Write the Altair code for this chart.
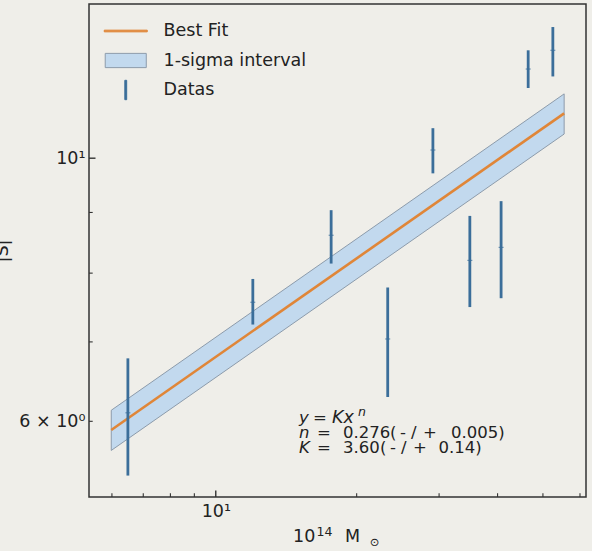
import altair as alt
import pandas as pd

# ---------------- data ----------------
mass = [6.49, 12.0, 17.64, 23.3, 29.1, 34.9, 40.7, 46.5, 52.5]
s_val = [6.10, 7.56, 8.61, 7.04, 10.16, 8.20, 8.41, 11.89, 12.33]
s_low = [5.40, 7.24, 8.15, 6.29, 9.71, 7.49, 7.62, 11.46, 11.72]
s_high = [6.78, 7.91, 9.04, 7.78, 10.60, 8.94, 9.20, 12.33, 12.90]

fit_x = [5.98, 55.5]
fit_y = [5.90, 10.91]
band_lo = [5.67, 10.48]
band_hi = [6.13, 11.33]

legend_labels = ["Best Fit", "1-sigma interval", "Datas"]
x_major_ticks = [10]
x_minor_ticks = [6, 7, 8, 9, 20, 30, 40, 50, 60]
y_major_ticks = [10]
y_minor_ticks = [6, 7, 8, 9]

# ---------------- style ----------------
W, H = 497, 493
FONT = "DejaVu Sans"
FS = 17.5
AFS = 16.5
TXT = "#222222"
ORANGE = "#e08638"
BLUE = "#3b6e9a"
BAND_FILL = "#c2d9ee"
BAND_EDGE = "#8c9bab"
BG = "#efeee9"

xscale = alt.Scale(type="log", domain=[5.36, 61.8], nice=False)
yscale = alt.Scale(type="log", domain=[5.18, 13.49], nice=False)

xaxis = alt.Axis(values=[10], labelExpr="datum.value == 10 ? '10¹' : ''",
                 ticks=False, tickSize=0, domain=False, grid=False,
                 labelFont=FONT, labelFontSize=FS, labelColor=TXT,
                 labelBaseline="alphabetic", labelPadding=19.5,
                 title=None)
yaxis = alt.Axis(values=[6, 10],
                 labelExpr="datum.value == 10 ? '10¹' : (datum.value == 6 ? '6 × 10⁰' : '')",
                 ticks=False, tickSize=0, domain=False, grid=False,
                 labelFont=FONT, labelFontSize=FS, labelColor=TXT,
                 labelPadding=4, labelBaseline="middle",
                 title="|S|", titleFont=FONT, titleFontSize=FS,
                 titleFontWeight="normal", titleColor=TXT,
                 titleAngle=270, titleX=-82, titleY=246.5,
                 titleBaseline="alphabetic", titleAlign="center")

X = lambda f: alt.X(f, type="quantitative", scale=xscale, axis=xaxis)
Y = lambda f: alt.Y(f, type="quantitative", scale=yscale, axis=yaxis)

fit_df = pd.DataFrame({"x": fit_x, "y": fit_y, "lo": band_lo, "hi": band_hi})
data_df = pd.DataFrame({"m": mass, "s": s_val, "lo": s_low, "hi": s_high})

band = alt.Chart(fit_df).mark_area(fill=BAND_FILL, stroke=BAND_EDGE, strokeWidth=1,
                                    opacity=1).encode(
    x=X("x"), y=Y("lo"), y2="hi")
line = alt.Chart(fit_df).mark_line(color=ORANGE, strokeWidth=2.6).encode(
    x=X("x"), y=Y("y"))
bars = alt.Chart(data_df).mark_rule(color=BLUE, strokeWidth=2.8).encode(
    x=X("m"), y=Y("lo"), y2="hi")
centers = alt.Chart(data_df).mark_tick(color=BLUE, orient="horizontal", size=5,
                                       thickness=1.2).encode(x=X("m"), y=Y("s"))

# inward ticks
xt_major = alt.Chart(pd.DataFrame({"v": x_major_ticks})).mark_rule(color="#333", strokeWidth=1.4).encode(
    x=X("v"), y=alt.value(H), y2=alt.value(H - 6.5))
xt_minor = alt.Chart(pd.DataFrame({"v": x_minor_ticks})).mark_rule(color="#333", strokeWidth=1.1).encode(
    x=X("v"), y=alt.value(H), y2=alt.value(H - 3.7))
yt_major = alt.Chart(pd.DataFrame({"v": y_major_ticks})).mark_rule(color="#333", strokeWidth=1.4).encode(
    y=Y("v"), x=alt.value(0), x2=alt.value(6.5))
yt_minor = alt.Chart(pd.DataFrame({"v": y_minor_ticks})).mark_rule(color="#333", strokeWidth=1.1).encode(
    y=Y("v"), x=alt.value(0), x2=alt.value(3.7))

# legend (library legend driven by shape/stroke/fill scales)
# every symbol path carries invisible zero-length points at +-0.68 so all rows share one height
PAD = "M0,-0.68L0,-0.68M0,0.68L0,0.68"
shape_paths = [
    "M-1.51,-0.06H1.51V0.06H-1.51Z" + PAD,
    "M-1.44,-0.50H1.44V0.50H-1.44Z" + PAD,
    "M-0.065,-0.68H0.065V0.68H-0.065Z",
]
leg = alt.Legend(title=None, orient="none", legendX=21.75, legendY=12, padding=0,
                 symbolSize=812, symbolOpacity=1, symbolStrokeWidth=1,
                 labelFont=FONT, labelFontSize=FS, labelColor=TXT,
                 labelOffset=22.75, rowPadding=2.5, labelLimit=400)
legend_layer = alt.Chart(pd.DataFrame({"series": legend_labels})).mark_point(
    filled=False, opacity=1).encode(
    shape=alt.Shape("series:N", scale=alt.Scale(domain=legend_labels, range=shape_paths), legend=leg),
    stroke=alt.Stroke("series:N", scale=alt.Scale(domain=legend_labels,
                                                  range=[ORANGE, BAND_EDGE, BLUE]), legend=leg),
    fill=alt.Fill("series:N", scale=alt.Scale(domain=legend_labels,
                                              range=[ORANGE, BAND_FILL, BLUE]), legend=leg),
).transform_filter("false")

one = pd.DataFrame({"a": [0]})


def txt(s, x, y, size=AFS, italic=False, align="left"):
    # x, y given in page pixels; converted to plot-area offsets (origin 89, 4)
    return alt.Chart(one).mark_text(text=s, font=FONT, fontSize=size, color=TXT,
                                    fontStyle="italic" if italic else "normal",
                                    align=align, baseline="alphabetic").encode(
        x=alt.value(x - 89), y=alt.value(y - 4))


texts = [
    # fit annotation
    txt("y", 299, 422.7, italic=True),
    txt("=", 313, 422.7),
    txt("Kx", 332, 422.7, size=17.5, italic=True),
    txt("n", 358, 416, size=12.5, italic=True),
    txt("n", 299, 437.5, italic=True),
    txt("=", 317, 437.5),
    txt("0.276", 343, 437.5),
    txt("(", 390, 437.5),
    txt("-", 400, 437.5),
    txt("/", 411, 437.5),
    txt("+", 423, 437.5),
    txt("0.005)", 451, 437.5),
    txt("K", 299, 453.3, italic=True),
    txt("=", 317, 453.3),
    txt("3.60", 343, 453.3),
    txt("(", 380, 453.3),
    txt("-", 390, 453.3),
    txt("/", 401, 453.3),
    txt("+", 413, 453.3),
    txt("0.14)", 438.5, 453.3),
    # x-axis title: 10^14 M_sun
    txt("10", 293, 541.7, size=FS),
    txt("14", 316.5, 536, size=12.5),
    txt("M", 345, 541.7, size=FS),
    txt("⊙", 374.5, 545.5, size=11.5, align="center"),
]

chart = alt.layer(band, line, bars, centers, xt_major, xt_minor, yt_major, yt_minor,
                  legend_layer, *texts).properties(
    width=W, height=H,
    autosize=alt.AutoSizeParams(type="none"),
    padding={"left": 89, "top": 4, "right": 6, "bottom": 54},
    background=BG,
).configure_view(stroke="#333333", strokeWidth=1.5)

chart.save("out.html", embed_options={"renderer": "svg", "actions": False})
